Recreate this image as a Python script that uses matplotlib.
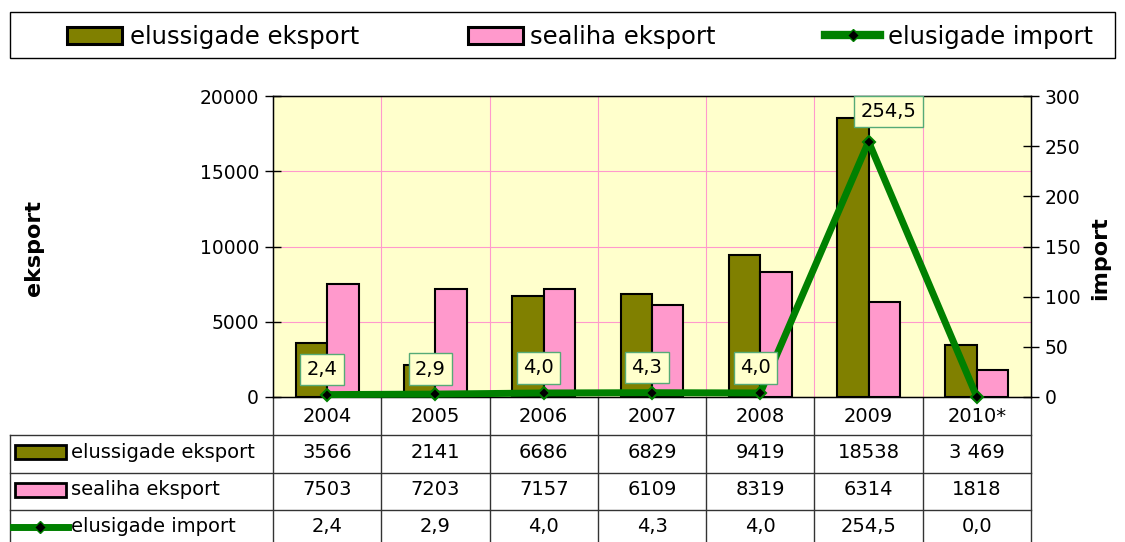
import matplotlib.pyplot as plt
import numpy as np
from matplotlib.patches import Patch, Rectangle
from matplotlib.lines import Line2D

plt.rcParams["font.family"] = ["DejaVu Sans"]

# ===== DATA =====
years = ["2004", "2005", "2006", "2007", "2008", "2009", "2010*"]
elus_eksport = [3566, 2141, 6686, 6829, 9419, 18538, 3469]
sea_eksport = [7503, 7203, 7157, 6109, 8319, 6314, 1818]
elus_import = [2.4, 2.9, 4.0, 4.3, 4.0, 254.5, 0.0]

# table texts (as in the source sheet)
elus_eksport_txt = ["3566", "2141", "6686", "6829", "9419", "18538", "3 469"]
sea_eksport_txt = ["7503", "7203", "7157", "6109", "8319", "6314", "1818"]
elus_import_txt = ["2,4", "2,9", "4,0", "4,3", "4,0", "254,5", "0,0"]

series_names = ["elussigade eksport", "sealiha eksport", "elusigade import"]

OLIVE = "#808000"
PINK = "#FF99CC"
GREEN = "#008000"
BG = "#FFFFCC"

W, H = 1125, 542
fig = plt.figure(figsize=(W / 100, H / 100), dpi=100)

# overlay in pixel coords for table + legend frame
ov = fig.add_axes([0, 0, 1, 1])
ov.set_xlim(0, W)
ov.set_ylim(H, 0)
ov.axis("off")

# ===== MAIN CHART =====
L, R, T, B = 273, 1031, 96, 397
ax = fig.add_axes([L / W, 1 - B / H, (R - L) / W, (B - T) / H])
ax.set_facecolor(BG)
x = np.arange(len(years))
w = 0.29
ax.bar(x - w / 2, elus_eksport, w, color=OLIVE, edgecolor="black", linewidth=1.5, zorder=2)
ax.bar(x + w / 2, sea_eksport, w, color=PINK, edgecolor="black", linewidth=1.5, zorder=2)
ax.set_xlim(-0.5, len(years) - 0.5)
ax.set_ylim(0, 20000)
ax.set_yticks(np.arange(0, 20001, 5000))
ax.set_xticks([])
ax.set_xticks(np.arange(0.5, len(years) - 1, 1), minor=True)
ax.tick_params(axis="x", which="both", length=0)
ax.tick_params(axis="y", labelsize=13.5, length=12, width=1, direction="inout", pad=4)
ax.grid(axis="y", color=PINK, linewidth=0.8, zorder=0)
ax.grid(axis="x", which="minor", color=PINK, linewidth=0.8, zorder=0)
ax.set_axisbelow(True)
for s in ax.spines.values():
    s.set_color("black")
    s.set_linewidth(1)

ax2 = ax.twinx()
ax2.plot(x, elus_import, color=GREEN, linewidth=5, marker="D", markersize=6,
         markerfacecolor="black", markeredgecolor=GREEN, markeredgewidth=1.5,
         clip_on=False, zorder=3)
ax2.set_ylim(0, 300)
ax2.set_yticks(np.arange(0, 301, 50))
ax2.tick_params(axis="y", labelsize=13.5, length=12, width=1, direction="inout", pad=4)

for i, (v, t) in enumerate(zip(elus_import, elus_import_txt)):
    if v == 0:
        continue
    dx, dy = (20, 30) if v > 100 else (-5, 25)
    ax2.annotate(t, (i, v), xytext=(dx, dy), textcoords="offset pixels",
                 ha="center", va="center", fontsize=14,
                 bbox=dict(boxstyle="square,pad=0.32", fc=BG, ec="#55AA77", lw=1))

fig.text(34 / W, 1 - 248 / H, "eksport", rotation=90, fontsize=16,
         fontweight="bold", ha="center", va="center")
fig.text(1100 / W, 1 - 258 / H, "import", rotation=90, fontsize=16,
         fontweight="bold", ha="center", va="center")

# ===== LEGEND (TOP) =====
ov.add_patch(Rectangle((10, 12), 1105, 46, fill=False, edgecolor="black", linewidth=1))
handles = [
    Patch(facecolor=OLIVE, edgecolor="black", linewidth=2.2),
    Patch(facecolor=PINK, edgecolor="black", linewidth=2.2),
    Line2D([], [], color=GREEN, linewidth=6, marker="D", markersize=6,
           markerfacecolor="black", markeredgecolor=GREEN),
]
fig.legend(handles, series_names, loc="center", bbox_to_anchor=(580 / W, 1 - 37 / H),
           ncol=3, frameon=False, fontsize=17.5, columnspacing=4.5,
           handlelength=2.26, handleheight=0.7, handletextpad=0.3)

# ===== DATA TABLE =====
col_w = (R - L) / len(years)
rows_y = [B, 435, 473, 510, H + 5]
lc = "#333333"
for yy in rows_y[1:4]:
    ov.plot([10, R], [yy, yy], color=lc, linewidth=1)
for i in range(len(years) + 1):
    ov.plot([L + i * col_w] * 2, [B, H], color=lc, linewidth=1)
ov.plot([10, 10], [435, H], color=lc, linewidth=1)

for i, yr in enumerate(years):
    cx = L + (i + 0.5) * col_w
    ov.text(cx, (rows_y[0] + rows_y[1]) / 2, yr, ha="center", va="center", fontsize=14)
    for r, txts in enumerate([elus_eksport_txt, sea_eksport_txt, elus_import_txt]):
        ov.text(cx, (rows_y[r + 1] + rows_y[r + 2]) / 2 - 2, txts[i],
                ha="center", va="center", fontsize=14)

# row labels with keys
for r, name in enumerate(series_names):
    cy = (rows_y[r + 1] + rows_y[r + 2]) / 2 - 2
    if r < 2:
        ov.add_patch(Rectangle((15, cy - 7), 51, 14, facecolor=[OLIVE, PINK][r],
                               edgecolor="black", linewidth=2))
    else:
        ov.plot([13, 68], [cy, cy], color=GREEN, linewidth=5)
        ov.plot([40], [cy], marker="D", markersize=6, color="black",
                markeredgecolor=GREEN)
    ov.text(71, cy, name, ha="left", va="center", fontsize=14)

fig.savefig("out.png", dpi=100)
